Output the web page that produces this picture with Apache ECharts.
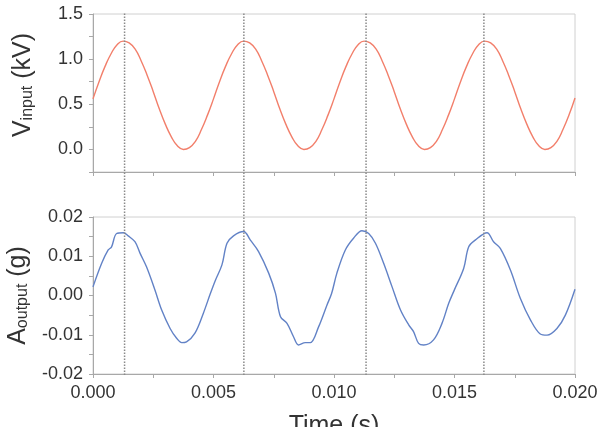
<!DOCTYPE html>
<html>
<head>
<meta charset="utf-8">
<title>V input / A output</title>
<script src="https://cdn.jsdelivr.net/npm/echarts@6/dist/echarts.min.js"></script>
<style>
  html, body { margin: 0; padding: 0; background: #fff; }
  #chart { width: 608px; height: 427px; }
</style>
</head>
<body>
<div id="chart"></div>
<script>
// input voltage (kV), one sample every 0.25 ms from 0 to 20 ms
const voltStep = 0.00025;
const voltValues = [
  0.56, 0.75, 0.92, 1.06, 1.16, 1.20, 1.18, 1.11, 0.98, 0.82,
  0.64, 0.45, 0.28, 0.14, 0.04, 0.00, 0.02, 0.09, 0.22, 0.38,
  0.56, 0.75, 0.92, 1.06, 1.16, 1.20, 1.18, 1.11, 0.98, 0.82,
  0.64, 0.45, 0.28, 0.14, 0.04, 0.00, 0.02, 0.09, 0.22, 0.38,
  0.56, 0.75, 0.92, 1.06, 1.16, 1.20, 1.18, 1.11, 0.98, 0.82,
  0.64, 0.45, 0.28, 0.14, 0.04, 0.00, 0.02, 0.09, 0.22, 0.38,
  0.56, 0.75, 0.92, 1.06, 1.16, 1.20, 1.18, 1.11, 0.98, 0.82,
  0.64, 0.45, 0.28, 0.14, 0.04, 0.00, 0.02, 0.09, 0.22, 0.38,
  0.57
];

// output acceleration (g)
const accelTime = [
  0, 0.00036, 0.00063, 0.00077, 0.00098, 0.00126, 0.00146, 0.00174, 0.00195, 0.00222,
  0.00257, 0.00285, 0.0032, 0.00347, 0.00368, 0.00388, 0.00423, 0.00458, 0.00487, 0.00508,
  0.00535, 0.00556, 0.00583, 0.00625, 0.00653, 0.00687, 0.00729, 0.00757, 0.00778, 0.00805,
  0.00832, 0.00853, 0.00881, 0.00902, 0.00936, 0.00971, 0.0099, 0.01012, 0.01047, 0.01081,
  0.01116, 0.01144, 0.01172, 0.01206, 0.01241, 0.01276, 0.0131, 0.0133, 0.01351, 0.01372,
  0.01413, 0.01448, 0.01476, 0.015, 0.01538, 0.01559, 0.01586, 0.01635, 0.01662, 0.0169,
  0.01732, 0.01773, 0.01815, 0.01856, 0.01884, 0.01925, 0.0196, 0.02
];
const accelValues = [
  0.0022, 0.0082, 0.0116, 0.0124, 0.0158, 0.0160, 0.0152, 0.0137, 0.0108, 0.0073,
  0.0014, -0.0037, -0.0084, -0.0109, -0.0120, -0.0118, -0.0096, -0.0045, 0.0005, 0.0039,
  0.0078, 0.0133, 0.0152, 0.0163, 0.0141, 0.0112, 0.0057, 0.0006, -0.0054, -0.0071,
  -0.0105, -0.0126, -0.0120, -0.0120, -0.0080, -0.0024, 0.0005, 0.0057, 0.0116, 0.0146,
  0.0165, 0.0158, 0.0133, 0.0082, 0.0022, -0.0037, -0.0075, -0.0092, -0.0122, -0.0126,
  -0.0113, -0.0071, -0.0020, 0.0015, 0.0069, 0.0124, 0.0141, 0.0160, 0.0137, 0.0120,
  0.0065, -0.0007, -0.0062, -0.0098, -0.0101, -0.0084, -0.0050, 0.0016
];

// voltage peaks marked by the dotted guides
const peakTimes = [0.00131, 0.00626, 0.01133, 0.01622];

const timeMin = 0;
const timeMax = 0.02;
const timeTickStep = 0.005;

const font = "Liberation Sans, Arial, sans-serif";
const textColor = "#333";
const axisColor = "#a8a8a8";

const voltData = voltValues.map((v, i) => [i * voltStep, v]);
const accelData = accelTime.map((t, i) => [t, accelValues[i]]);
// each guide runs across the whole overlay grid, broken between guides
const guideData = [];
peakTimes.forEach((t) => {
  guideData.push([t, 0], [t, 1], "-");
});

const chart = echarts.init(document.getElementById("chart"), null, { renderer: "canvas" });

// x axis shared settings
const timeAxis = (showLabels, gridIndex) => ({
  type: "value",
  gridIndex: gridIndex,
  min: timeMin,
  max: timeMax,
  interval: timeTickStep,
  axisLine: { show: true, onZero: false, lineStyle: { color: axisColor, width: 1 } },
  axisTick: { show: true, length: 4, lineStyle: { color: axisColor } },
  minorTick: { show: true, splitNumber: 2, length: 4, lineStyle: { color: axisColor } },
  splitLine: { show: false },
  minorSplitLine: { show: false },
  axisLabel: {
    show: showLabels,
    color: textColor,
    fontFamily: font,
    fontSize: 18,
    margin: 10,
    formatter: (v) => v.toFixed(3),
  },
});

const titleRich = {
  main: { fontSize: 25, fontFamily: font, color: textColor },
  sub: { fontSize: 16, fontFamily: font, color: textColor, verticalAlign: "bottom" },
};

// grids keep the exact box; the x title may run off the bottom edge
const gridBase = { left: 93, right: 33, containLabel: false, outerBoundsMode: "none" };

const option = {
  animation: false,
  backgroundColor: "#fff",
  grid: [
    Object.assign({ top: 14, height: 158, show: true, borderColor: "#d0d0d0", borderWidth: 1 }, gridBase),
    Object.assign({ top: 217, height: 157, show: true, borderColor: "#d0d0d0", borderWidth: 1 }, gridBase),
    // overlay only for the dotted peak guides
    Object.assign({ top: 12, height: 363, show: false }, gridBase),
  ],
  xAxis: [
    timeAxis(false, 0),
    Object.assign(timeAxis(true, 1), {
      name: "Time (s)",
      nameLocation: "middle",
      nameGap: 40,
      nameTextStyle: { fontSize: 25, fontFamily: font, color: textColor },
    }),
    {
      type: "value", gridIndex: 2, min: timeMin, max: timeMax,
      axisLine: { show: false }, axisTick: { show: false }, axisLabel: { show: false }, splitLine: { show: false },
    },
  ],
  yAxis: [
    {
      type: "value",
      gridIndex: 0,
      min: -0.25,
      max: 1.5,
      interval: 0.25,
      axisLine: { show: true, onZero: false, lineStyle: { color: axisColor } },
      axisTick: { show: true, length: 4, lineStyle: { color: axisColor } },
      splitLine: { show: false },
      axisLabel: {
        color: textColor,
        fontFamily: font,
        fontSize: 18,
        margin: 10,
        formatter: (v) => (v >= 0 && Math.abs(v * 2 - Math.round(v * 2)) < 1e-6 ? v.toFixed(1) : ""),
      },
      name: "{main|V}{sub|input}{main| (kV)}",
      nameLocation: "middle",
      nameRotate: 90,
      nameGap: 57,
      // nudged up a little, as in the original
      nameTextStyle: { rich: titleRich, padding: [0, 0, 0, 16] },
    },
    {
      type: "value",
      gridIndex: 1,
      min: -0.02,
      max: 0.02,
      interval: 0.01,
      axisLine: { show: true, onZero: false, lineStyle: { color: axisColor } },
      axisTick: { show: true, length: 4, lineStyle: { color: axisColor } },
      minorTick: { show: true, splitNumber: 2, length: 4, lineStyle: { color: axisColor } },
      splitLine: { show: false },
      axisLabel: {
        color: textColor,
        fontFamily: font,
        fontSize: 18,
        margin: 10,
        formatter: (v) => v.toFixed(2),
      },
      name: "{main|A}{sub|output}{main| (g)}",
      nameLocation: "middle",
      nameRotate: 90,
      nameGap: 57,
      nameTextStyle: { rich: titleRich },
    },
    {
      type: "value", gridIndex: 2, min: 0, max: 1,
      axisLine: { show: false }, axisTick: { show: false }, axisLabel: { show: false }, splitLine: { show: false },
    },
  ],
  series: [
    {
      name: "V input",
      type: "line",
      xAxisIndex: 0,
      yAxisIndex: 0,
      data: voltData,
      smooth: true,
      showSymbol: false,
      lineStyle: { color: "#f27f6b", width: 1.4 },
    },
    {
      name: "A output",
      type: "line",
      xAxisIndex: 1,
      yAxisIndex: 1,
      data: accelData,
      smooth: 0.35,
      showSymbol: false,
      lineStyle: { color: "#6282c6", width: 1.4 },
    },
    {
      name: "peaks",
      type: "line",
      xAxisIndex: 2,
      yAxisIndex: 2,
      data: guideData,
      silent: true,
      showSymbol: false,
      connectNulls: false,
      z: 5,
      lineStyle: { type: "dotted", color: "#8a8a8a", width: 1.5 },
    },
  ],
};

chart.setOption(option);
</script>
</body>
</html>
